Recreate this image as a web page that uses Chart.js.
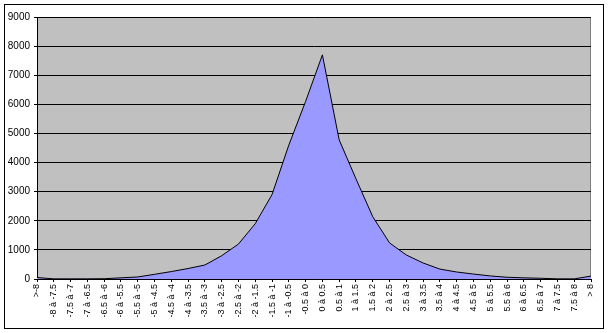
<!DOCTYPE html>
<html>
<head>
<meta charset="utf-8">
<script src="https://cdn.jsdelivr.net/npm/chart.js@4/dist/chart.umd.min.js"></script>
<style>
  html, body { margin:0; padding:0; background:#fff; }
  #wrap { width:609px; height:333px; position:relative; }
</style>
</head>
<body>
<div id="wrap"><canvas id="chart" width="609" height="333"></canvas></div>
<script>
// class labels (bins)
const categories = [
  ">-8", "-8 à -7.5", "-7.5 à -7", "-7 à -6.5", "-6.5 à -6", "-6 à -5.5", "-5.5 à -5",
  "-5 à -4.5", "-4.5 à -4", "-4 à -3.5", "-3.5 à -3", "-3 à -2.5", "-2.5 à -2",
  "-2 à -1.5", "-1.5 à -1", "-1 à -0.5", "-0.5 à 0", "0 à 0.5", "0.5 à 1", "1 à 1.5",
  "1.5 à 2", "2 à 2.5", "2.5 à 3", "3 à 3.5", "3.5 à 4", "4 à 4.5", "4.5 à 5",
  "5 à 5.5", "5.5 à 6", "6 à 6.5", "6.5 à 7", "7 à 7.5", "7.5 à 8", "> 8"
];

// counts per bin
const counts = [
  50, 5, 5, 5, 10, 40, 70,
  160, 255, 360, 480, 800, 1200,
  1900, 2900, 4600, 6100, 7700, 4780, 3440,
  2140, 1240, 825, 550, 340, 240, 170,
  105, 60, 40, 25, 5, 5, 100
];

const yTicks = [0, 1000, 2000, 3000, 4000, 5000, 6000, 7000, 8000, 9000];

// gray plot area + outer frame, Excel style
const frame = {
  id: 'frame',
  beforeDraw(chart) {
    const { ctx, chartArea: a } = chart;
    ctx.save();
    ctx.fillStyle = '#fff';
    ctx.fillRect(0, 0, chart.width, chart.height);
    ctx.fillStyle = '#C0C0C0';
    ctx.fillRect(a.left, a.top, a.right - a.left, a.bottom - a.top);
    ctx.strokeStyle = '#808080';
    ctx.lineWidth = 1;
    ctx.beginPath();
    ctx.moveTo(a.left, a.top + 0.5);
    ctx.lineTo(a.right - 0.5, a.top + 0.5);
    ctx.lineTo(a.right - 0.5, a.bottom);
    ctx.stroke();
    ctx.strokeStyle = '#000';
    ctx.strokeRect(4.5, 4.5, 599, 324);
    ctx.restore();
  }
};

new Chart(document.getElementById('chart'), {
  type: 'line',
  data: {
    labels: categories,
    datasets: [{
      data: counts,
      fill: 'origin',
      backgroundColor: '#9999FF',
      borderColor: '#000',
      borderWidth: 1,
      pointRadius: 0,
      tension: 0
    }]
  },
  options: {
    responsive: false,
    animation: false,
    layout: { padding: { left: 0, top: 17, right: 18, bottom: 0 } },
    plugins: { legend: { display: false }, tooltip: { enabled: false } },
    scales: {
      x: {
        offset: false,
        afterFit: s => { s.height = 54; },
        grid: { drawOnChartArea: false, drawTicks: true, tickLength: 3, color: '#000' },
        border: { color: '#000', width: 1 },
        ticks: {
          autoSkip: false,
          minRotation: 90,
          maxRotation: 90,
          padding: 2,
          color: '#000',
          font: { family: 'Arial, "Liberation Sans", sans-serif', size: 9 }
        }
      },
      y: {
        min: 0,
        max: 9000,
        afterFit: s => { s.width = 37; },
        afterBuildTicks: s => { s.ticks = yTicks.map(v => ({ value: v })); },
        grid: { color: '#000', tickLength: 3, drawTicks: true },
        border: { color: '#000', width: 1 },
        ticks: {
          padding: 4,
          color: '#000',
          callback: v => String(v),
          font: { family: 'Arial, "Liberation Sans", sans-serif', size: 10 }
        }
      }
    }
  },
  plugins: [frame]
});
</script>
</body>
</html>
